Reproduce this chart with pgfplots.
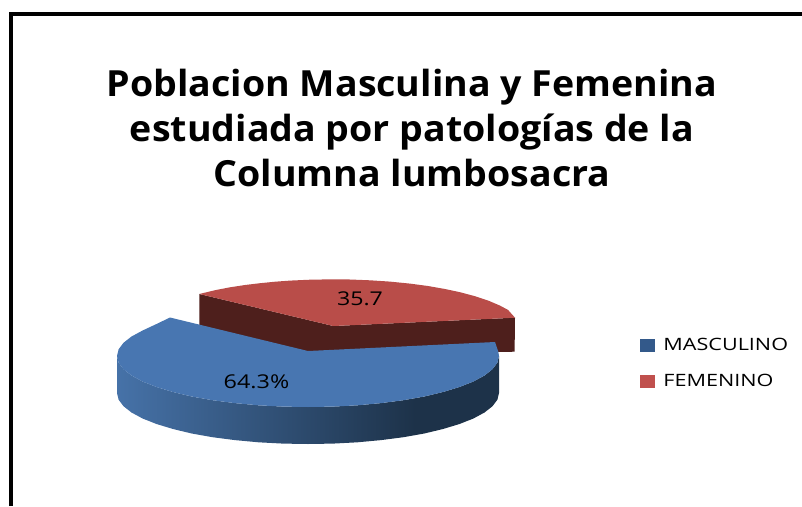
\documentclass[border=0pt]{standalone}
\usepackage{fontspec}
\setmainfont{Open Sans}
\usepackage{pgfplots}
\pgfplotsset{compat=1.18}

\definecolor{bluetop}{HTML}{4876B1}
\definecolor{bluedark}{HTML}{1D3249}
\definecolor{blueside}{HTML}{4672A8}
\definecolor{redtop}{HTML}{B94D49}
\definecolor{redside}{HTML}{4E1F1C}
\definecolor{legblue}{HTML}{33598A}
\definecolor{legred}{HTML}{C0504D}

% side of the pie: light on the left, dark from about 3/4 of the width
\pgfdeclarehorizontalshading{sideblue}{100bp}{
  color(0bp)=(blueside); color(25bp)=(blueside); color(64bp)=(bluedark); color(100bp)=(bluedark)}

\begin{document}
\begin{tikzpicture}
\begin{axis}[
  name=a,
  scale only axis, width=802pt, height=506pt,
  xmin=0, xmax=802, ymin=0, ymax=506, y dir=reverse,
  hide axis,
  legend image code/.code={\draw[#1] (0pt,-6pt) rectangle (14pt,6pt); \path[draw=none,fill=none] (0pt,0pt) -- (21pt,0pt);},
  legend style={at={(axis cs:640,336)}, anchor=north west, draw=none, fill=none,
    font=\fontsize{17}{20}\selectfont, row sep=18pt, inner sep=0pt,
    cells={anchor=west}},
]
% frame
\addplot[forget plot, black, line width=4pt] coordinates {(11,506) (11,14) (802,14)};

% red slice, wall then top
\addplot[forget plot, draw=none, fill=redside] coordinates {
  (199.3,294) (199.3,326) (308,360) (498,352) (514.6,351.7) (515,317.7) (333.3,326)};
\addplot[forget plot, draw=none, fill=redtop] coordinates {
  (333.3,326) (199.3,294) (215,290.2) (230,287.3) (245,285) (260,283.2) (275,281.7) (290,280.6)
  (310,279.7) (333,279.3) (350,279.5) (370,280.3) (390,281.6) (410,283.6) (428,286) (445,289)
  (460,292.2) (475,296.2) (488,300.5) (500,305.6) (508,309.9) (515,317.7)};

% blue slice, side then top
\addplot[forget plot, draw=none, shade, shading=sideblue] coordinates {
  (117,356) (118.6,362.7) (123.5,369.2) (131.5,375.5) (142.6,381.5) (156.5,387) (173,392)
  (191.7,396.5) (212.5,400.2) (234.9,403.1) (258.6,405.3) (283.1,406.6) (308,407)
  (332.9,406.6) (357.4,405.3) (381.1,403.1) (403.5,400.2) (424.3,396.5) (443,392)
  (459.5,387) (473.4,381.5) (484.5,375.5) (492.5,369.2) (497.4,362.7) (499,356)
  (499,393) (497.4,399.7) (492.5,406.2) (484.5,412.5) (473.4,418.5) (459.5,424) (443,429)
  (424.3,433.5) (403.5,437.2) (381.1,440.1) (357.4,442.3) (332.9,443.6) (308,444)
  (283.1,443.6) (258.6,442.3) (234.9,440.1) (212.5,437.2) (191.7,433.5) (173,429)
  (156.5,424) (142.6,418.5) (131.5,412.5) (123.5,406.2) (118.6,399.7) (117,393)};
\addplot[forget plot, draw=none, fill=bluetop] coordinates {
  (308,351) (170,317.5) (156.5,324) (142.6,330.5) (131.5,336.5) (123.5,342.8) (118.6,349.3)
  (117,356) (118.6,362.7) (123.5,369.2) (131.5,375.5) (142.6,381.5) (156.5,387) (173,392)
  (191.7,396.5) (212.5,400.2) (234.9,403.1) (258.6,405.3) (283.1,406.6) (308,407)
  (332.9,406.6) (357.4,405.3) (381.1,403.1) (403.5,400.2) (424.3,396.5) (443,392)
  (459.5,387) (473.4,381.5) (484.5,375.5) (492.5,369.2) (497.4,362.7) (499,356)
  (498.3,351.6) (495,342)};

\addlegendimage{draw=legblue, fill=legblue}
\addlegendentry{\scalebox{1.27}[1]{MASCULINO}}
\addlegendimage{draw=legred, fill=legred}
\addlegendentry{\scalebox{1.27}[1]{FEMENINO}}

\node[font=\fontsize{19}{22}\selectfont, transform shape, xscale=1.22] at (axis cs:360,299) {35.7};
\node[font=\fontsize{19}{22}\selectfont, transform shape, xscale=1.23] at (axis cs:256.5,382) {64.3\%};

\node[font=\fontsize{36}{45}\selectfont\bfseries, align=center, transform shape, xscale=1.043]
  at (axis cs:412,128) {Poblacion Masculina y Femenina\\estudiada por patologías de la\\Columna lumbosacra};
\end{axis}
\pgfresetboundingbox
\path[use as bounding box] (a.south west) rectangle (a.north east);
\end{tikzpicture}
\end{document}
